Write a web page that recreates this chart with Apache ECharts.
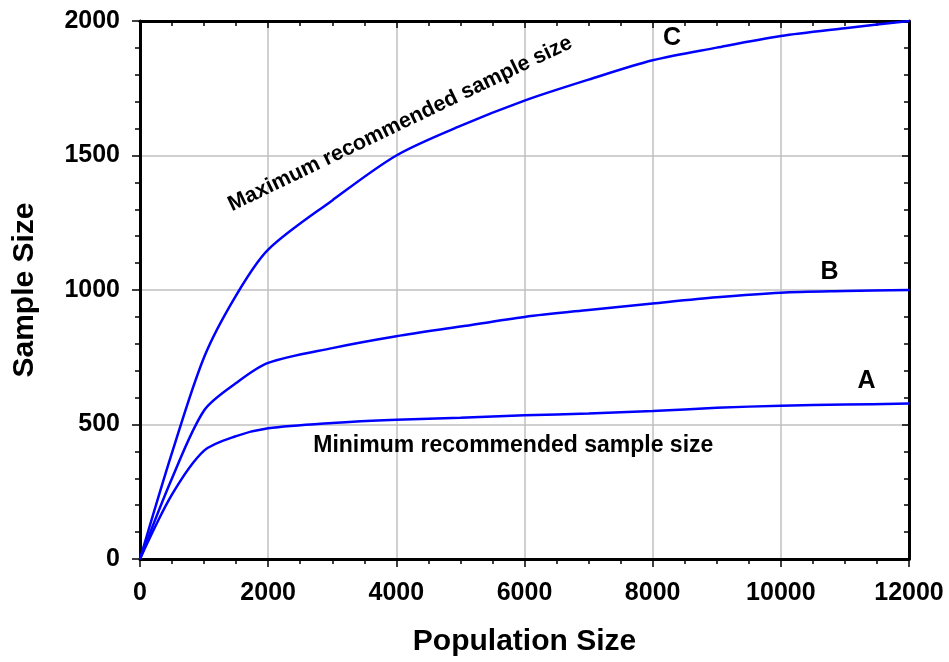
<!DOCTYPE html>
<html>
<head>
<meta charset="utf-8">
<title>Sample Size</title>
<script src="https://cdn.jsdelivr.net/npm/echarts@6/dist/echarts.min.js"></script>
<style>
  html, body { margin: 0; padding: 0; background: #ffffff; }
  #chart { width: 949px; height: 662px; }
</style>
</head>
<body>
<div id="chart"></div>
<script>
// population sizes (x)
var populationSize = [0, 500, 1000, 1500, 2000, 3000, 4000, 5000, 6000, 7000, 8000, 9000, 10000, 11000, 12000]
// A - minimum recommended sample size
var sampleA = [0, 240, 403, 457, 486, 506, 518, 525, 534, 541, 550, 562, 570, 574, 578]
// B
var sampleB = [0, 300, 552, 654, 729, 784, 828, 864, 900, 926, 950, 973, 990, 996, 1000]
// C - maximum recommended sample size
var sampleC = [0, 395, 750, 980, 1150, 1333, 1500, 1610, 1704, 1782, 1854, 1901, 1944, 1973, 2000]

// annotation texts and where they sit (data coords)
var noteText = ['C', 'B', 'A', 'Maximum recommended sample size', 'Minimum recommended sample size']
var noteX = [8304, 10760, 11337, 4060, 5825]
var noteY = [1935, 1067, 661, 1618, 422]

var font = 'Liberation Sans, Arial, sans-serif'

function toPairs(ys) {
  return populationSize.map(function (x, i) { return [x, ys[i]] })
}

function note(i, size, rotate) {
  return {
    coord: [noteX[i], noteY[i]],
    symbol: 'rect',
    symbolSize: 1,
    itemStyle: { color: 'rgba(0,0,0,0)' },
    label: {
      show: true,
      position: 'inside',
      formatter: noteText[i],
      color: '#000',
      fontFamily: font,
      fontWeight: 'bold',
      fontSize: size,
      rotate: rotate || 0
    }
  }
}

function curve(name, ys, marks) {
  var s = {
    name: name,
    type: 'line',
    smooth: 0.3,
    showSymbol: false,
    symbol: 'none',
    lineStyle: { color: '#0000ff', width: 2.5 },
    data: toPairs(ys),
    z: 3
  }
  if (marks) {
    s.markPoint = { silent: true, animation: false, data: marks }
  }
  return s
}

// plain numbers, no thousands separator
function plain(v) { return String(v) }

var frameLine = { show: true, onZero: false, lineStyle: { color: '#000', width: 3 } }

var myChart = echarts.init(document.getElementById('chart'))
myChart.setOption({
  animation: false,
  textStyle: { fontFamily: font },
  grid: { left: 140, right: 40, top: 21, bottom: 102 },
  xAxis: [
    {
      type: 'value',
      min: 0,
      max: 12000,
      interval: 2000,
      name: 'Population Size',
      nameLocation: 'middle',
      nameGap: 68,
      nameTextStyle: { color: '#000', fontSize: 30, fontWeight: 'bold', fontFamily: font },
      axisLine: frameLine,
      axisTick: { show: true, inside: false, length: 8, lineStyle: { color: '#000', width: 1.5 } },
      minorTick: { show: true, splitNumber: 4, length: 5, lineStyle: { color: '#000', width: 1.5 } },
      axisLabel: { color: '#000', fontSize: 25, fontWeight: 'bold', fontFamily: font, margin: 22, formatter: plain },
      splitLine: { show: true, lineStyle: { color: '#c0c0c0', width: 1.5 } }
    },
    {
      type: 'value',
      position: 'top',
      min: 0,
      max: 12000,
      interval: 2000,
      axisLine: frameLine,
      axisTick: { show: true, inside: true, length: 7, lineStyle: { color: '#000', width: 1.5 } },
      minorTick: { show: true, splitNumber: 4, length: 5, lineStyle: { color: '#000', width: 1.5 } },
      axisLabel: { show: false },
      splitLine: { show: false }
    }
  ],
  yAxis: [
    {
      type: 'value',
      min: 0,
      max: 2000,
      interval: 500,
      name: 'Sample Size',
      nameLocation: 'middle',
      nameGap: 100,
      nameTextStyle: { color: '#000', fontSize: 30, fontWeight: 'bold', fontFamily: font },
      axisLine: frameLine,
      axisTick: { show: true, inside: false, length: 8, lineStyle: { color: '#000', width: 1.5 } },
      minorTick: { show: true, splitNumber: 5, length: 5, lineStyle: { color: '#000', width: 1.5 } },
      axisLabel: { color: '#000', fontSize: 25, fontWeight: 'bold', fontFamily: font, margin: 20, formatter: plain },
      splitLine: { show: true, lineStyle: { color: '#c0c0c0', width: 1.5 } }
    },
    {
      type: 'value',
      position: 'right',
      min: 0,
      max: 2000,
      interval: 500,
      axisLine: frameLine,
      axisTick: { show: true, inside: true, length: 7, lineStyle: { color: '#000', width: 1.5 } },
      minorTick: { show: true, splitNumber: 5, length: 5, lineStyle: { color: '#000', width: 1.5 } },
      axisLabel: { show: false },
      splitLine: { show: false }
    }
  ],
  series: [
    curve('A', sampleA, [note(2, 25), note(4, 23)]),
    curve('B', sampleB, [note(1, 25)]),
    curve('C', sampleC, [note(0, 25), note(3, 21.5, 25.7)])
  ]
})
</script>
</body>
</html>
